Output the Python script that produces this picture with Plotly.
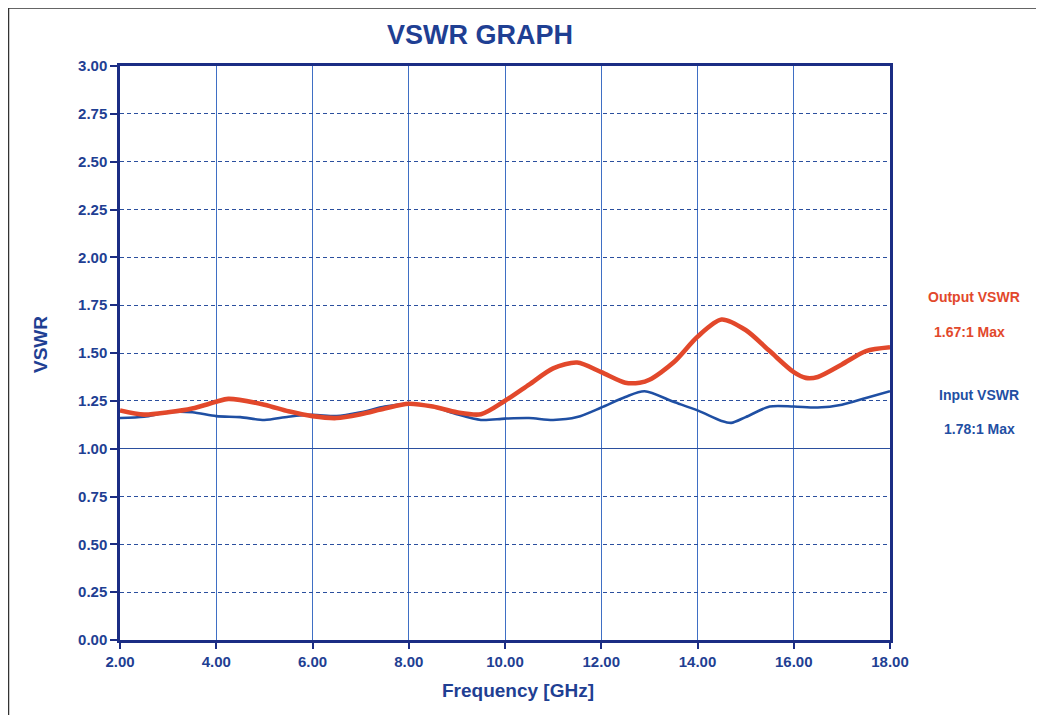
import plotly.graph_objects as go

# Data
freq_out = [2.0, 2.5, 3.0, 3.5, 4.0, 4.25, 5.0, 5.5, 6.0, 6.5, 7.0, 7.5, 8.0, 8.5, 9.0, 9.5,
            10.0, 10.5, 11.0, 11.5, 12.0, 12.5, 12.8, 13.0, 13.5, 14.0, 14.5, 15.0, 15.5,
            16.0, 16.25, 16.5, 17.0, 17.5, 18.0]
vswr_out = [1.20, 1.178, 1.19, 1.21, 1.245, 1.26, 1.23, 1.195, 1.17, 1.16, 1.18, 1.21, 1.235,
            1.22, 1.19, 1.18, 1.25, 1.335, 1.42, 1.45, 1.40, 1.345, 1.345, 1.36, 1.45, 1.585,
            1.675, 1.62, 1.51, 1.40, 1.37, 1.375, 1.44, 1.51, 1.53]

freq_in = [2.0, 2.5, 3.0, 3.5, 4.0, 4.5, 5.0, 5.5, 6.0, 6.5, 7.0, 7.5, 8.0, 8.5, 9.0, 9.5,
           10.0, 10.5, 11.0, 11.5, 12.0, 12.5, 12.9, 13.5, 14.0, 14.5, 14.7, 15.0, 15.5,
           16.0, 16.5, 17.0, 17.5, 18.0]
vswr_in = [1.16, 1.167, 1.19, 1.19, 1.17, 1.165, 1.15, 1.167, 1.177, 1.17, 1.19, 1.22, 1.235,
           1.22, 1.18, 1.15, 1.157, 1.16, 1.15, 1.165, 1.215, 1.27, 1.30, 1.245, 1.20, 1.145,
           1.135, 1.165, 1.22, 1.22, 1.215, 1.23, 1.265, 1.30]

x_ticks = [2, 4, 6, 8, 10, 12, 14, 16, 18]
y_ticks = [0, 0.25, 0.5, 0.75, 1.0, 1.25, 1.5, 1.75, 2.0, 2.25, 2.5, 2.75, 3.0]

NAVY = "#1b2d84"
TXT = "#1f3f93"
RED = "#e2482b"
BLUE = "#1f4fa3"
FONT = "Liberation Sans, Arial, sans-serif"

# page is offset by the default 8px body margin
OFF = 8
W, H = 1044 - OFF, 715 - OFF
L, T = 120 - OFF, 66 - OFF
pw, ph = 770, 574
R = W - L - pw
B = H - T - ph

def px(x):
    return (x - OFF - L) / pw

def py(y):
    return (T + ph - (y - OFF)) / ph

fig = go.Figure()
fig.add_trace(go.Scatter(x=freq_in, y=vswr_in, mode="lines", name="Input VSWR",
                         line=dict(color=BLUE, width=2.6, shape="spline", smoothing=0.8)))
fig.add_trace(go.Scatter(x=freq_out, y=vswr_out, mode="lines", name="Output VSWR",
                         line=dict(color=RED, width=4.6, shape="spline", smoothing=0.8)))
# invisible trace on second y-axis to provide the solid 1.00 grid line
fig.add_trace(go.Scatter(x=[2, 18], y=[None, None], yaxis="y2", showlegend=False,
                         hoverinfo="skip", mode="lines"))

fig.update_layout(
    width=W, height=H,
    margin=dict(l=L, r=R, t=T, b=B),
    paper_bgcolor="white", plot_bgcolor="white",
    showlegend=False,
    font=dict(family=FONT, color=TXT),
    xaxis=dict(range=[2, 18], tickvals=x_ticks,
               ticktext=["<b>%.2f</b>" % v for v in x_ticks],
               showgrid=True, gridcolor="#3f6fc4", gridwidth=1,
               ticks="outside", ticklen=6, tickcolor=NAVY, tickwidth=1.5,
               tickfont=dict(size=15, color=TXT, family=FONT),
               showline=True, linecolor=NAVY, linewidth=2.5, mirror=True,
               zeroline=False),
    yaxis=dict(range=[0, 3], tickvals=y_ticks,
               ticktext=["<b>%.2f</b>" % v for v in y_ticks],
               showgrid=True, gridcolor="#2b4f9e", gridwidth=1, griddash="4px,3px",
               ticks="outside", ticklen=7, tickcolor=NAVY, tickwidth=1.5,
               tickfont=dict(size=15, color=TXT, family=FONT),
               showline=True, linecolor=NAVY, linewidth=2.5, mirror=True,
               zeroline=False),
    yaxis2=dict(range=[0, 3], overlaying="y", tickvals=[1.0], showticklabels=False,
                showgrid=True, gridcolor="#2b4f9e", gridwidth=1.3, ticks="",
                showline=False, zeroline=False),
)

def note(text, cx, cy, size, color, angle=0):
    fig.add_annotation(text="<b>%s</b>" % text, xref="paper", yref="paper",
                       x=px(cx), y=py(cy), xanchor="center", yanchor="middle",
                       showarrow=False, textangle=angle,
                       font=dict(size=size, color=color, family=FONT))

note("VSWR GRAPH", 480, 35, 27, TXT)
note("Frequency [GHz]", 518, 690, 19, TXT)
note("VSWR", 40, 345, 19, TXT, -90)
note("Output VSWR", 974, 297, 14, RED)
note("1.67:1 Max", 969, 332, 14, RED)
note("Input VSWR", 979, 395, 14, BLUE)
note("1.78:1 Max", 979, 429, 14, BLUE)

# outer page frame (left and top edges)
fig.add_shape(type="path", xref="paper", yref="paper",
              path="M %f,%f L %f,%f L %f,%f" % (px(8.5), py(720), px(8.5), py(8), px(1050), py(8)),
              line=dict(color="#333333", width=1.5))

fig.write_html("out.html")
